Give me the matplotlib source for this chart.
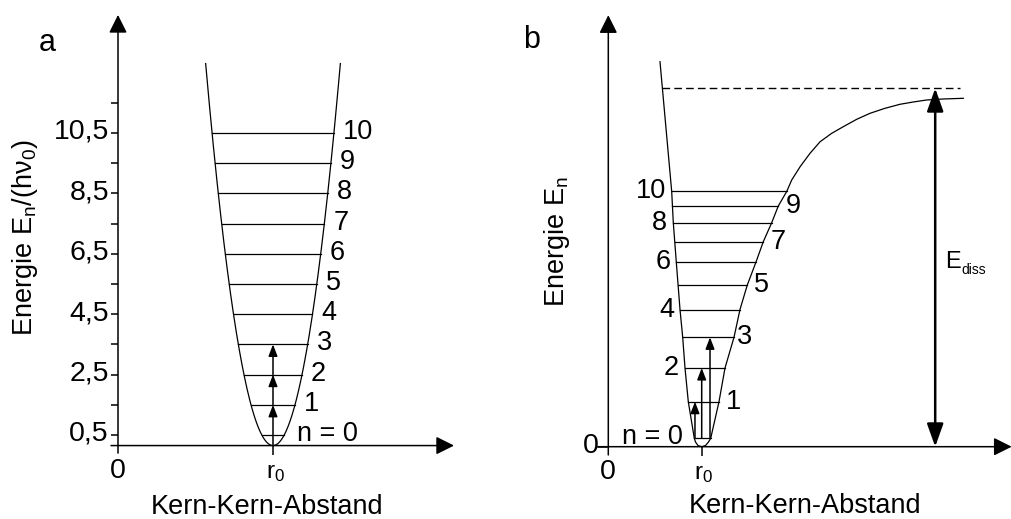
import numpy as np
import matplotlib
matplotlib.use("Agg")
import matplotlib.pyplot as plt

plt.rcParams['font.family'] = ['Liberation Sans', 'DejaVu Sans']
plt.rcParams['mathtext.fontset'] = 'custom'
plt.rcParams['mathtext.rm'] = 'Liberation Sans'
plt.rcParams['mathtext.it'] = 'Liberation Sans'
plt.rcParams['mathtext.bf'] = 'Liberation Sans:bold'

# ---------------- data: panel a (harmonic oscillator) ----------------
a_level_n = [0, 1, 2, 3, 4, 5, 6, 7, 8, 9, 10]
a_level_E = [0.5, 1.5, 2.5, 3.5, 4.5, 5.5, 6.5, 7.5, 8.5, 9.5, 10.5]
a_ytick_major = [0.5, 2.5, 4.5, 6.5, 8.5, 10.5]
a_ytick_labels = ['0,5', '2,5', '4,5', '6,5', '8,5', '10,5']
a_ytick_minor = [1.5, 3.5, 5.5, 7.5, 9.5, 11.5]
a_r0 = 1.0            # equilibrium distance
a_Emin = 0.15         # bottom of the parabola (on the r axis)
a_k = 67.0            # curvature of the harmonic potential
a_Etop = 12.8         # top of the drawn parabola
a_arrow_levels = [1.5, 2.5, 3.5]

# ---------------- data: panel b (anharmonic / Morse-like) ----------------
b_level_n = [0, 1, 2, 3, 4, 5, 6, 7, 8, 9, 10]
b_level_E = [0.234, 1.256, 2.196, 3.052, 3.828, 4.512, 5.153, 5.72, 6.25, 6.716, 7.121]
b_curve_r = [0.5535, 0.6788, 0.6959, 0.728, 0.7677, 0.7966, 0.8212, 0.8565, 0.9208,
             0.9336, 0.9604, 1.0, 1.0407, 1.0728, 1.0964,
             1.1852, 1.2495, 1.3458, 1.41, 1.4882, 1.5814, 1.6595, 1.7495, 1.8201,
             1.9101, 1.9636, 2.0535, 2.1596, 2.2677, 2.3919, 2.516, 2.6595,
             2.8019, 2.9625, 3.1231, 3.2655, 3.409, 3.5867, 3.8009]
b_curve_E = [10.742, 7.121, 6.25, 5.153, 3.828, 3.052, 2.196, 1.256, 0.234,
             0.131, 0.033, 0.0, 0.033, 0.131, 0.234,
             1.256, 2.196, 3.052, 3.828, 4.512, 5.153, 5.72, 6.25, 6.716,
             7.121, 7.441, 7.812, 8.186, 8.51, 8.744, 8.929, 9.135,
             9.302, 9.442, 9.554, 9.618, 9.674, 9.702, 9.721]
b_r0 = 1.0
b_E_diss = 10.0
b_arrow_r = [0.928, 1.0, 1.089]
b_arrow_levels = [1, 2, 3]
b_dash_end = 3.77
b_ediss_r = 3.5

# ---------------- figure ----------------
W, H = 1012, 519
fig = plt.figure(figsize=(W / 100, H / 100), dpi=100)

FS_TICK = 20.5
FS_NUM = 19.5
FS_LAB = 19.5
FS_PANEL = 22
LW = 0.9
LW_AX = 1.1
K = 'black'


def full_axes(xlim, ylim):
    ax = fig.add_axes([0, 0, 1, 1])
    ax.set_xlim(*xlim)
    ax.set_ylim(*ylim)
    ax.axis('off')
    ax.patch.set_alpha(0)
    return ax


def axis_arrow(ax, start, end):
    ax.annotate('', xy=end, xytext=start,
                arrowprops=dict(arrowstyle='-|>,head_length=1.1,head_width=0.55',
                                lw=LW_AX, color=K, mutation_scale=10,
                                shrinkA=0, shrinkB=0))


def small_arrow(ax, start, end):
    ax.annotate('', xy=end, xytext=start,
                arrowprops=dict(arrowstyle='-|>,head_length=0.7,head_width=0.27',
                                lw=1.1, color=K, mutation_scale=10,
                                shrinkA=0, shrinkB=0))


# ================= panel a =================
ax_a = full_axes((-118 / 155, (W - 118) / 155), (0.5 - 84 / 30.2, 0.5 + 435 / 30.2))
a_axis_E = a_Emin
axis_arrow(ax_a, (0, -0.1), (0, 14.41))
axis_arrow(ax_a, (-0.045, a_axis_E), (2.168, a_axis_E))

for v in a_ytick_major + a_ytick_minor:
    ax_a.plot([-0.045, 0], [v, v], color=K, lw=LW_AX, solid_capstyle='butt')
for v, lab in zip(a_ytick_major, a_ytick_labels):
    ax_a.annotate(lab, xy=(0, v), xytext=(-9, 1), textcoords='offset pixels',
                  ha='right', va='center', fontsize=FS_TICK)
ax_a.plot([a_r0, a_r0], [a_axis_E, -0.16], color=K, lw=LW_AX, solid_capstyle='butt')
ax_a.annotate('0', xy=(0, a_axis_E), xytext=(0, -25), textcoords='offset pixels',
              ha='center', va='center', fontsize=FS_TICK)
ax_a.annotate(r'$\mathregular{r_0}$', xy=(a_r0, a_axis_E), xytext=(3, -27),
              textcoords='offset pixels', ha='center', va='center', fontsize=17.5)

w_top = np.sqrt((a_Etop - a_Emin) / a_k)
rr = np.linspace(a_r0 - w_top, a_r0 + w_top, 500)
ax_a.plot(rr, a_Emin + a_k * (rr - a_r0) ** 2, color=K, lw=LW)

for n, E in zip(a_level_n, a_level_E):
    half = np.sqrt((E - a_Emin) / a_k)
    ax_a.plot([a_r0 - half, a_r0 + half], [E, E], color=K, lw=LW)
    txt = 'n = 0' if n == 0 else str(n)
    ax_a.annotate(txt, xy=(a_r0 + half, E), xytext=(9 if n else 13, 1),
                  textcoords='offset pixels', ha='left', va='center', fontsize=FS_NUM)

prev = a_Emin
for E in a_arrow_levels:
    small_arrow(ax_a, (a_r0, prev), (a_r0, E))
    prev = E

# ================= panel b =================
ax_b = full_axes((-608.3 / 93.4, (W - 608.3) / 93.4), ((446.7 - H) / 35.84, 446.7 / 35.84))
axis_arrow(ax_b, (0, -0.23), (0, 12.04))
axis_arrow(ax_b, (-0.11, 0), (4.319, 0))
ax_b.plot([-0.11, 0], [0, 0], color=K, lw=LW_AX)
ax_b.annotate('0', xy=(0, 0), xytext=(-10, 1), textcoords='offset pixels',
              ha='right', va='center', fontsize=FS_TICK)
ax_b.plot([b_r0, b_r0], [0, -0.26], color=K, lw=LW_AX, solid_capstyle='butt')
ax_b.annotate('0', xy=(0, 0), xytext=(0, -25), textcoords='offset pixels',
              ha='center', va='center', fontsize=FS_TICK)
ax_b.annotate(r'$\mathregular{r_0}$', xy=(b_r0, 0), xytext=(2, -27),
              textcoords='offset pixels', ha='center', va='center', fontsize=17.5)

cr = np.array(b_curve_r)
cE = np.array(b_curve_E)
ax_b.plot(cr, cE, color=K, lw=LW, solid_joinstyle='round')
imin = int(np.argmin(cE))
left_r, left_E = cr[:imin + 1][::-1], cE[:imin + 1][::-1]
right_r, right_E = cr[imin:], cE[imin:]

for n, E in zip(b_level_n, b_level_E):
    rl = np.interp(E, left_E, left_r)
    rrt = np.interp(E, right_E, right_r)
    ax_b.plot([rl, rrt], [E, E], color=K, lw=LW)
    if n == 0:
        ax_b.annotate('n = 0', xy=(rl, E), xytext=(-11, 1), textcoords='offset pixels',
                      ha='right', va='center', fontsize=FS_NUM)
    elif n % 2 == 0:
        ax_b.annotate(str(n), xy=(rl, E), xytext=(-6, 0), textcoords='offset pixels',
                      ha='right', va='center', fontsize=FS_NUM)
    else:
        ax_b.annotate(str(n), xy=(rrt, E), xytext=(7 if n != 3 else 3, 0),
                      textcoords='offset pixels', ha='left', va='center', fontsize=FS_NUM)

for r, lv in zip(b_arrow_r, b_arrow_levels):
    small_arrow(ax_b, (r, b_level_E[0]), (r, b_level_E[lv]))

r_dash0 = np.interp(b_E_diss, left_E, left_r)
ax_b.plot([r_dash0, b_dash_end], [b_E_diss, b_E_diss], color=K, lw=1.0,
          linestyle=(0, (5.5, 3)))
ax_b.annotate('', xy=(b_ediss_r, b_E_diss), xytext=(b_ediss_r, 0),
              arrowprops=dict(arrowstyle='<|-|>,head_length=1.4,head_width=0.5',
                              lw=1.8, color=K, mutation_scale=10, shrinkA=0, shrinkB=0))
ax_b.annotate('E', xy=(b_ediss_r, b_E_diss / 2), xytext=(10, -1),
              textcoords='offset pixels', ha='left', va='baseline', fontsize=17)
ax_b.annotate('diss', xy=(b_ediss_r, b_E_diss / 2), xytext=(26, -6),
              textcoords='offset pixels', ha='left', va='baseline', fontsize=10)

# ---------------- labels ----------------
def ftext(px, py, s, **kw):
    fig.text(px / W, 1 - py / H, s, **kw)

ftext(47, 43, 'a', ha='center', va='center', fontsize=FS_PANEL)
ftext(532, 40, 'b', ha='center', va='center', fontsize=FS_PANEL)
ftext(25, 238, r'Energie $\mathregular{E_n/(h\nu_0)}$', rotation=90,
      ha='center', va='center', fontsize=FS_LAB)
ftext(557, 242, r'Energie $\mathregular{E_n}$', rotation=90,
      ha='center', va='center', fontsize=FS_LAB)
ftext(267, 507, 'Kern-Kern-Abstand', ha='center', va='center', fontsize=FS_LAB)
ftext(805, 506, 'Kern-Kern-Abstand', ha='center', va='center', fontsize=FS_LAB)

fig.savefig('out.png', dpi=100)
